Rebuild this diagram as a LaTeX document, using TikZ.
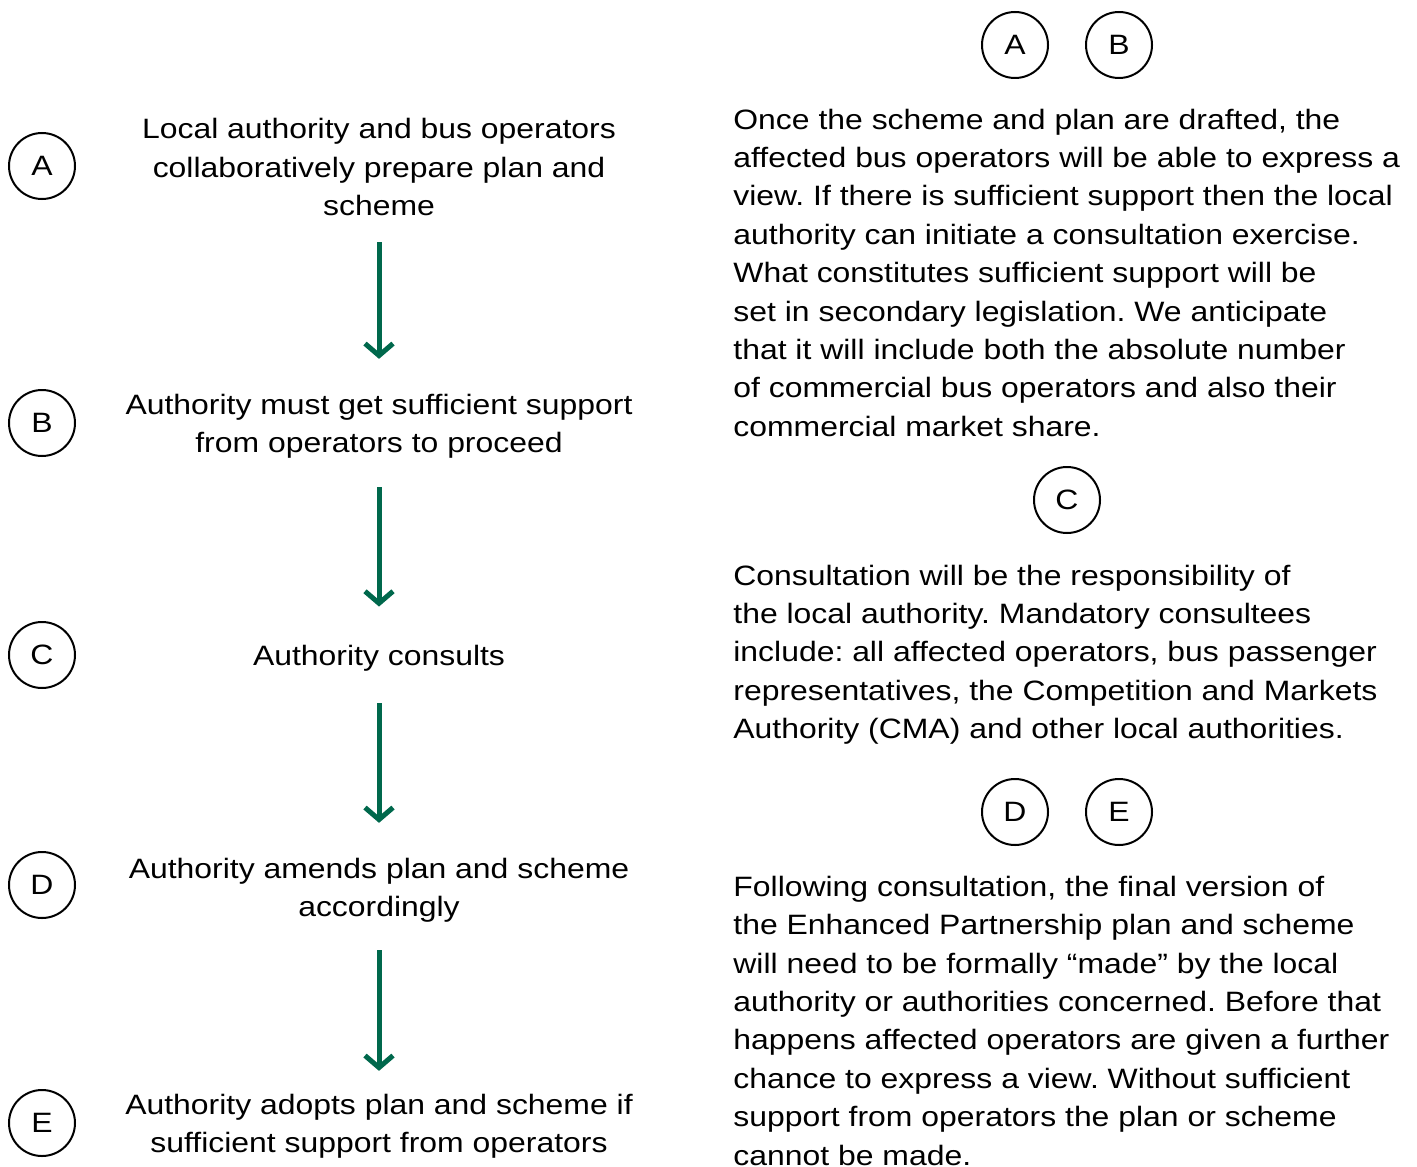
\documentclass[tikz,border=0pt]{standalone}
\usepackage{fontspec}
\setmainfont{Liberation Sans}[FakeStretch=1.14]
\frenchspacing
\usetikzlibrary{arrows.meta}

\definecolor{flowgreen}{RGB}{0,104,76}

\tikzset{
  letter/.style={circle, draw, line width=1pt, minimum size=33pt, inner sep=0pt,
    font=\fontsize{14}{19.2}\selectfont},
  stage/.style={align=center, inner sep=0pt, font=\fontsize{14}{19.2}\selectfont},
  note/.style={align=left, inner sep=0pt, anchor=north west, font=\fontsize{14}{19.2}\selectfont},
  flow/.style={flowgreen, line width=2.5pt, -{Straight Barb[length=6pt,width=14pt]}}
}

\begin{document}
\begin{tikzpicture}[x=0.5pt,y=-0.5pt]
        \useasboundingbox (0,0) rectangle (1417,1166);

        % Draw the letters on the left
        \node[letter] (tagA) at (42,166) {A};
        \node[letter] (tagB) at (42,423) {B};
        \node[letter] (tagC) at (42,655) {C};
        \node[letter] (tagD) at (42,885) {D};
        \node[letter] (tagE) at (42,1123) {E};

        % Draw the steps
        \node[stage] (stageA) at (379,167) {Local authority and bus operators\\collaboratively prepare plan and\\scheme};
        \node[stage] (stageB) at (379,426.5) {Authority must get sufficient support\\from operators to proceed};
        \node[stage] (stageC) at (379,658) {Authority consults};
        \node[stage] (stageD) at (379,890.5) {Authority amends plan and scheme\\accordingly};
        \node[stage] (stageE) at (379,1126.5) {Authority adopts plan and scheme if\\sufficient support from operators};

        % Draw the arrows between the steps
        \foreach \a/\b/\s/\e in {stageA/stageB/13/17.5, stageB/stageC/14/19,
                                 stageC/stageD/16/17.5, stageD/stageE/13.5/11.5} {
            \draw[flow, shorten <=\s pt, shorten >=\e pt] (\a) -- (\b);
        }

        % Draw the letters on the right
        \node[letter] (topA) at (1015,45) {A};
        \node[letter] (topB) at (1119,45) {B};
        \node[letter] (topC) at (1067,500) {C};
        \node[letter] (topD) at (1015,812) {D};
        \node[letter] (topE) at (1119,812) {E};

        % Write the notes
        \node[note] (noteAB) at (733,108.5) {Once the scheme and plan are drafted, the\\
            affected bus operators will be able to express a\\
            view. If there is sufficient support then the local\\
            authority can initiate a consultation exercise.\\
            What constitutes sufficient support will be\\
            set in secondary legislation. We anticipate\\
            that it will include both the absolute number\\
            of commercial bus operators and also their\\
            commercial market share.};
        \node[note] (noteC) at (733,564.5) {Consultation will be the responsibility of\\
            the local authority. Mandatory consultees\\
            include: all affected operators, bus passenger\\
            representatives, the Competition and Markets\\
            Authority (CMA) and other local authorities.};
        \node[note] (noteDE) at (733,875.5) {Following consultation, the final version of\\
            the Enhanced Partnership plan and scheme\\
            will need to be formally “made” by the local\\
            authority or authorities concerned. Before that\\
            happens affected operators are given a further\\
            chance to express a view. Without sufficient\\
            support from operators the plan or scheme\\
            cannot be made.};

    \end{tikzpicture}
\end{document}
